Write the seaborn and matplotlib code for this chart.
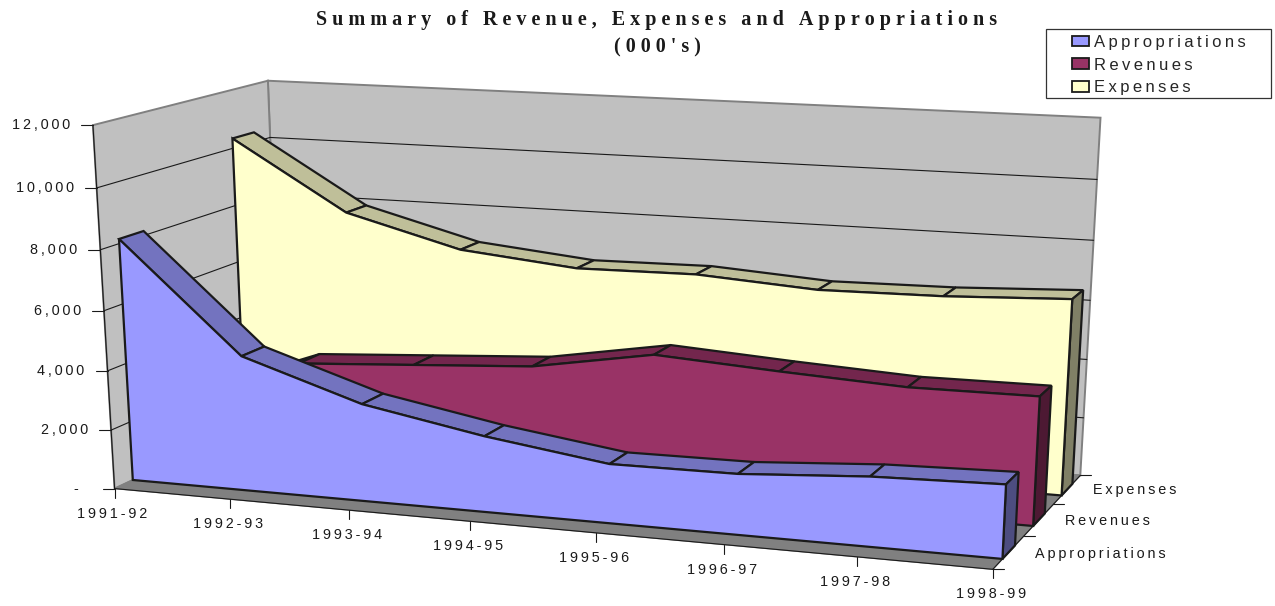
import numpy as np
import pandas as pd
import seaborn as sns
import matplotlib.pyplot as plt
from matplotlib.patches import Patch, Rectangle

sns.set_theme(style="white")

categories = ["1991-92", "1992-93", "1993-94", "1994-95", "1995-96", "1996-97", "1997-98", "1998-99"]
series_names = ["Appropriations", "Revenues", "Expenses"]
appropriations = [8150, 4540, 3255, 2520, 1950, 1980, 2250, 2360]
revenues = [2000, 3470, 3720, 3970, 4660, 4410, 4200, 4220]
expenses = [10340, 7980, 6930, 6540, 6590, 6330, 6385, 6560]
z_ticks = [0, 2000, 4000, 6000, 8000, 10000, 12000]
z_labels = ["-", "2,000", "4,000", "6,000", "8,000", "10,000", "12,000"]

W, H = 1275, 606
THIN = "\u2009"
SANS = ["Liberation Sans", "DejaVu Sans"]
SERIF = ["Liberation Serif", "DejaVu Serif"]

# camera: box points (cat, depth, value) -> pixels, fitted once
box = [(0, 0, 0), (0, 0, 12000), (0, 1, 12000), (7, 1, 12000), (7, 0, 0), (7, 1, 0), (0, 1, 10000),
       (1, 0, 0), (2, 0, 0), (0, 0, 6000), (7, 1, 6000), (7, 1, 10000)]
pix = [(115, 488), (93, 125), (268, 80), (1100, 118), (993, 569), (1080, 475), (270, 138),
       (230, 500), (348, 510), (104, 311), (1091, 301), (1097, 179)]
A, b = [], []
for (x, d, z), (u, v) in zip(box, pix):
    z = z / 12000
    A.append([x, d, z, 1, 0, 0, 0, 0, -u * x, -u * d, -u * z])
    A.append([0, 0, 0, 0, x, d, z, 1, -v * x, -v * d, -v * z])
    b += [u, v]
cam = np.append(np.linalg.lstsq(np.array(A, float), np.array(b, float), rcond=None)[0], 1).reshape(3, 4)


def proj(x, d, z):
    p = cam @ np.array([x, d, z / 12000, 1.0])
    return p[0] / p[2], p[1] / p[2]


def spaced(s, sp=THIN):
    return sp.join(s)


fig = plt.figure(figsize=(W / 100, H / 100), dpi=100)
ax = fig.add_axes([0, 0, 1, 1])


def poly(pts, face, edge="k", lw=1.6, zo=2):
    xy = [proj(*p) for p in pts]
    ax.fill([q[0] for q in xy], [q[1] for q in xy], facecolor=face, edgecolor=edge, lw=lw, zorder=zo, joinstyle="miter")


def lines(segs, color="k", lw=0.8, zo=1.5):
    rows = []
    for i, seg in enumerate(segs):
        rows += [{"line": i, "px": q[0], "py": q[1]} for q in seg]
    sns.lineplot(data=pd.DataFrame(rows), x="px", y="py", units="line", estimator=None, sort=False,
                 color=color, lw=lw, zorder=zo, ax=ax, legend=False)


# walls and floor
poly([(0, 1, 0), (7, 1, 0), (7, 1, 12000), (0, 1, 12000)], "#C0C0C0", "#808080", 1.4, 1)
poly([(0, 0, 0), (0, 1, 0), (0, 1, 12000), (0, 0, 12000)], "#C0C0C0", "#808080", 1.4, 1)
poly([(0, 0, 0), (7, 0, 0), (7, 1, 0), (0, 1, 0)], "#808080", "#808080", 1.0, 1.1)

grid = []
for t in z_ticks[1:-1]:
    grid.append([proj(0, 0, t), proj(0, 1, t)])
    grid.append([proj(0, 1, t), proj(7, 1, t)])
lines(grid, zo=1.2)

# axis lines and ticks
axis = [[proj(0, 0, 0), proj(0, 0, 12000)], [proj(0, 0, 0), proj(7, 0, 0)], [proj(7, 0, 0), proj(7, 1, 0)]]
for t in z_ticks:
    px, py = proj(0, 0, t)
    axis.append([(px - 12, py), (px, py)])
for i in range(len(categories)):
    px, py = proj(i, 0, 0)
    axis.append([(px, py), (px, py + 9)])
for d in [0, 1 / 3, 2 / 3, 1]:
    px, py = proj(7, d, 0)
    axis.append([(px, py), (px + 11, py)])
lines(axis, zo=1.3)

# tick labels
for t, lab in zip(z_ticks, z_labels):
    px, py = proj(0, 0, t)
    off = 36 if lab == "-" else 23
    ax.text(px - off, py, spaced(lab), ha="right", va="center", fontsize=10.4, family=SANS, color="k")
for i, lab in enumerate(categories):
    px, py = proj(i, 0, 0)
    ax.text(px - 2, py + 25, spaced(lab), ha="center", va="center", fontsize=10.4, family=SANS, color="k")
for k, lab in enumerate(series_names):
    px, py = proj(7, (2 * k + 1) / 6, 0)
    ax.text(px + 26, py + 2 - k, spaced(lab), ha="left", va="center", fontsize=10.4, family=SANS, color="k")

# one band per series, back to front
styles = {
    "Appropriations": ("#9999FF", "#7373BF", "#4D4D80"),
    "Revenues": ("#993366", "#73264D", "#4D1933"),
    "Expenses": ("#FFFFCC", "#BFBF99", "#808066"),
}
values = {"Appropriations": appropriations, "Revenues": revenues, "Expenses": expenses}
zo = 3
for k in [2, 1, 0]:
    name = series_names[k]
    vals = values[name]
    front, top, side = styles[name]
    d0, d1 = (2 * k + 1) / 6 - 0.0667, (2 * k + 1) / 6 + 0.0667
    n = len(vals)
    for i in range(n - 1):
        poly([(i, d0, vals[i]), (i + 1, d0, vals[i + 1]), (i + 1, d1, vals[i + 1]), (i, d1, vals[i])], top, zo=zo)
    poly([(n - 1, d0, 0), (n - 1, d1, 0), (n - 1, d1, vals[-1]), (n - 1, d0, vals[-1])], side, zo=zo)
    outline = [(i, d0, v) for i, v in enumerate(vals)] + [(n - 1, d0, 0), (0, d0, 0)]
    poly(outline, front, zo=zo + 0.5)
    zo += 1

ax.set_xlim(0, W)
ax.set_ylim(H, 0)
ax.set_axis_off()

# title
ax.text(657, 20, spaced("Summary of Revenue, Expenses and Appropriations", "\u2005"), ha="center", va="center",
        fontsize=14.5, family=SERIF, weight="bold", color="k")
ax.text(657, 47, spaced("(000's)", "\u2005"), ha="center", va="center",
        fontsize=14.5, family=SERIF, weight="bold", color="k")

# legend
ax.add_patch(Rectangle((1045.5, 29), 225.5, 69, facecolor="white", edgecolor="#333333", lw=0.9, zorder=9))
handles = [Patch(facecolor=styles[s][0], edgecolor="k", lw=1.3) for s in series_names]
ax.legend(handles, [spaced(s) for s in series_names], loc="upper left", bbox_to_anchor=(1066 / W, 1 - 29 / H),
          frameon=False, borderaxespad=0, borderpad=0.35, handlelength=1.0, handleheight=0.6, handletextpad=0.35,
          labelspacing=0.47, prop={"family": SANS, "size": 12}).set_zorder(10)

fig.savefig("out.png", dpi=100)
